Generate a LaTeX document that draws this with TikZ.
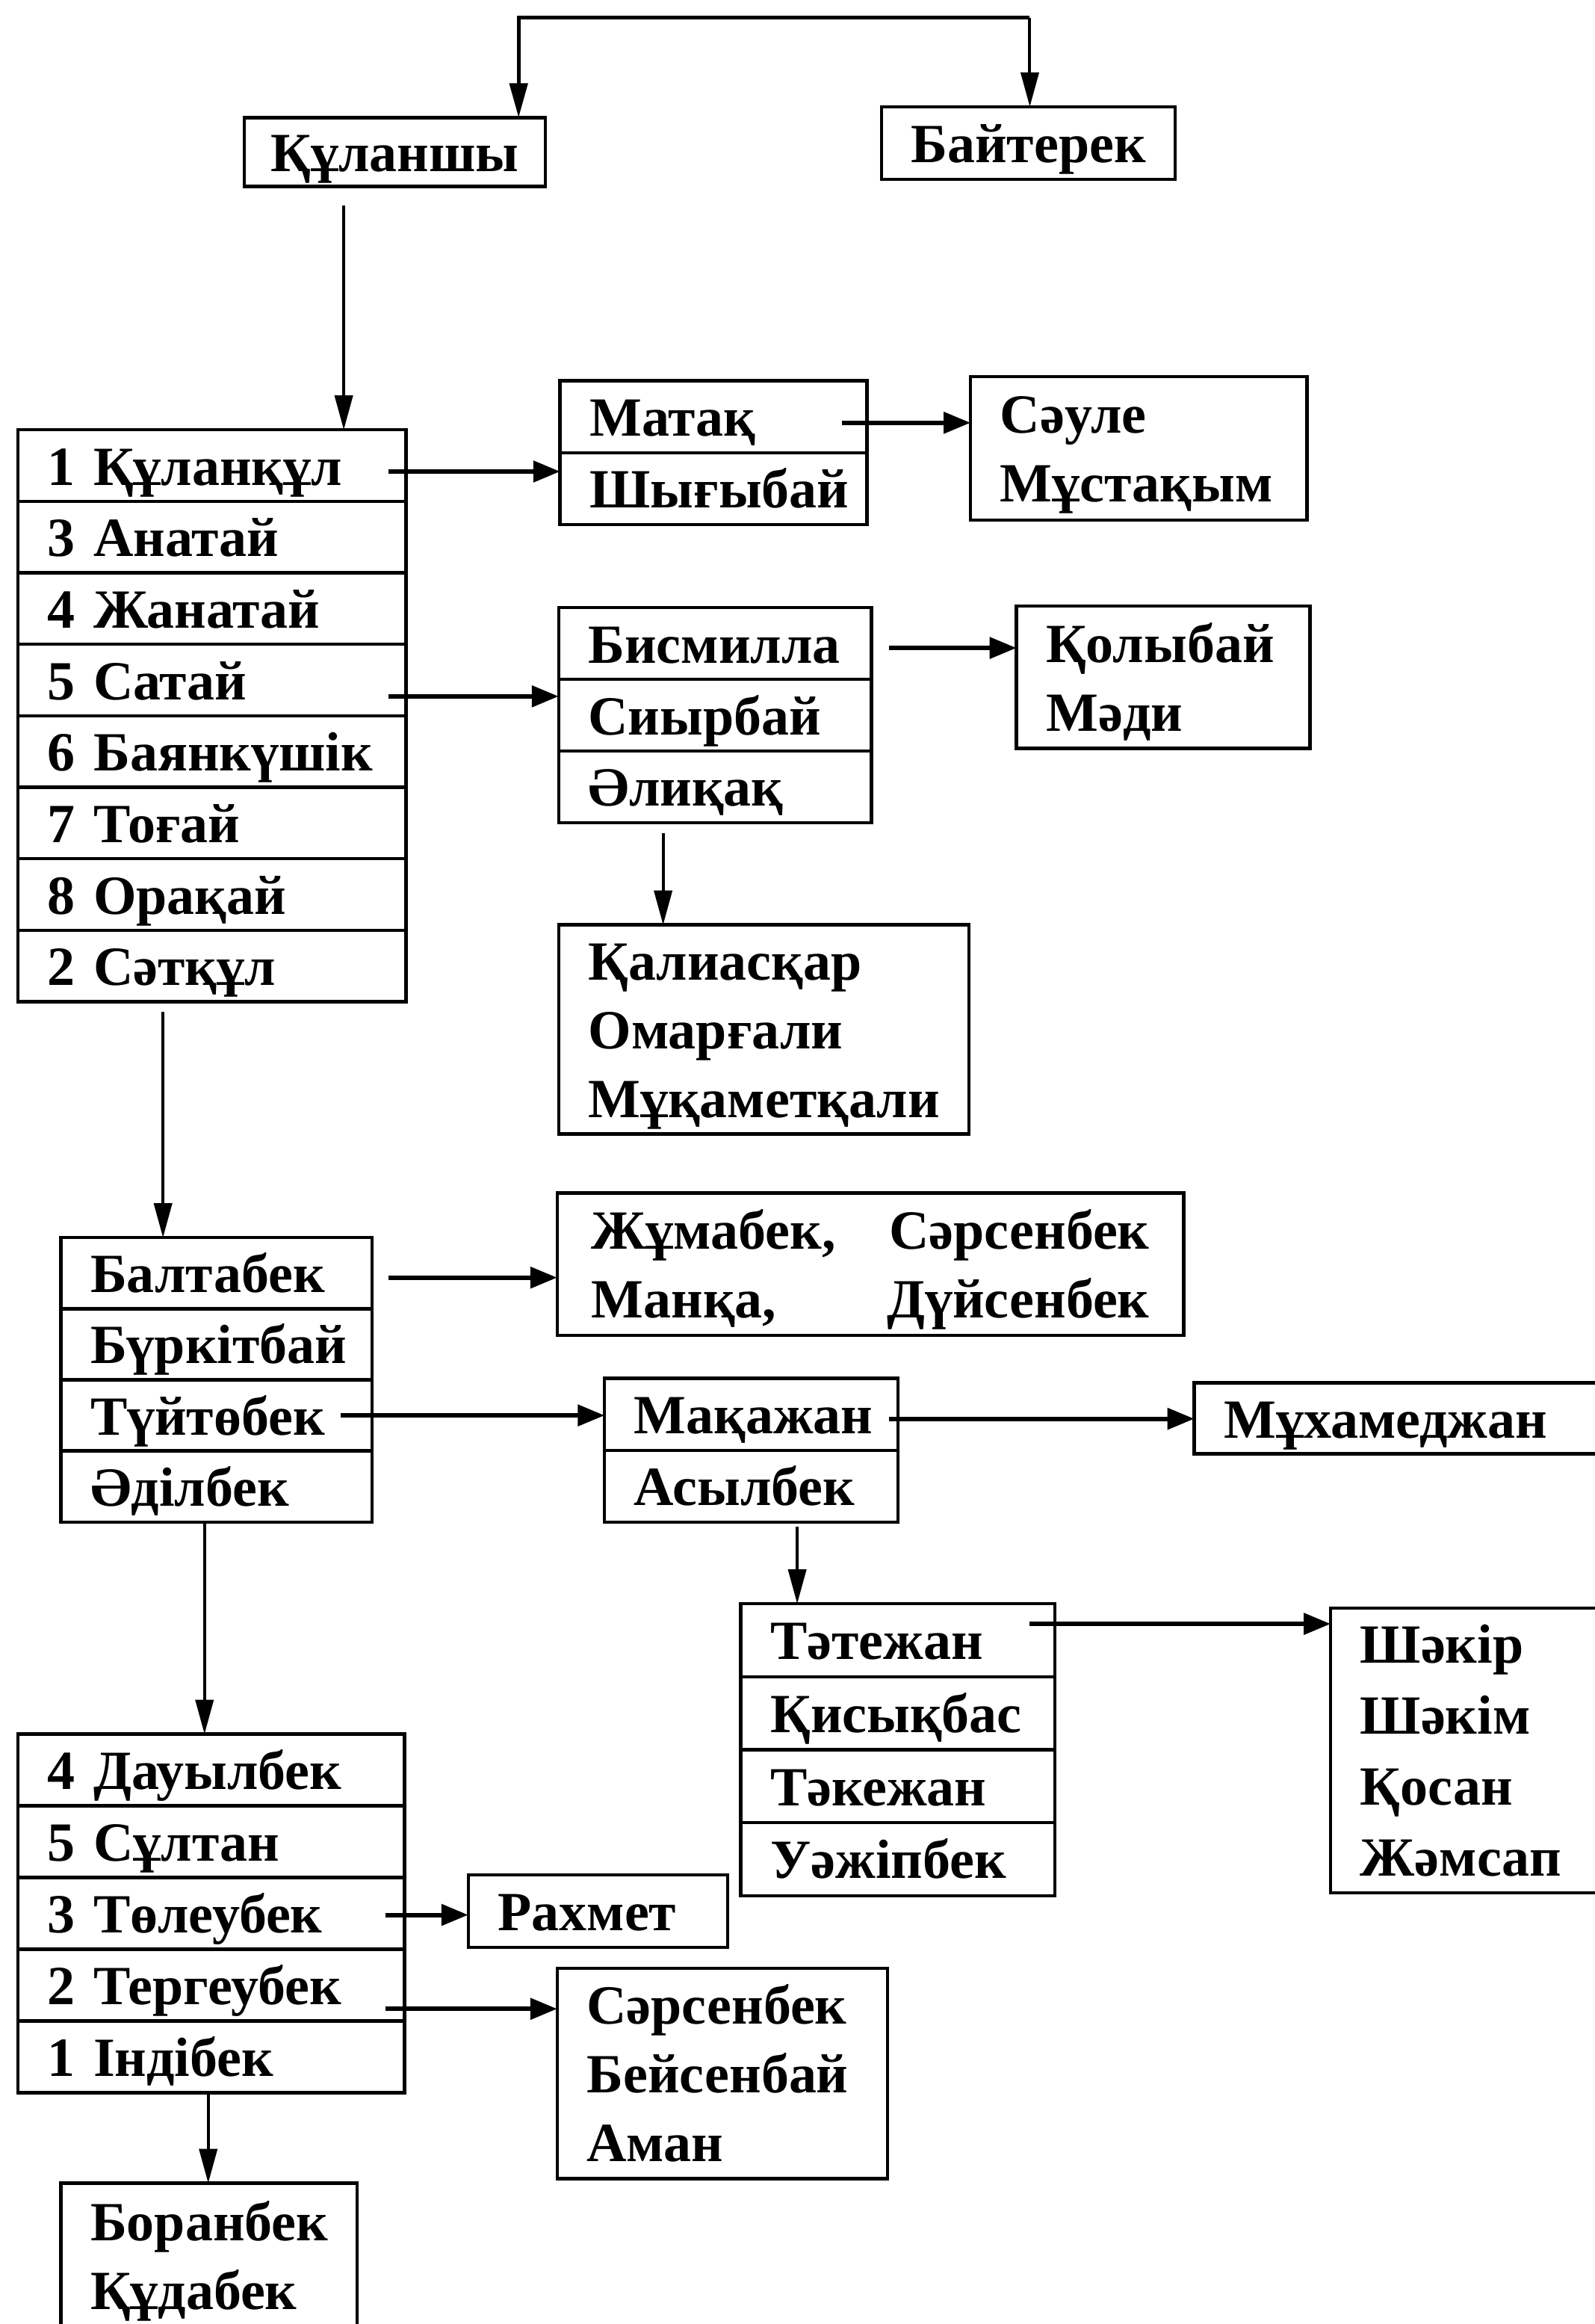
\documentclass[tikz,border=0pt]{standalone}
\usepackage{fontspec}
\setmainfont{Liberation Serif}
\usetikzlibrary{arrows.meta,calc}
\newcommand\sx{\rule[-20pt]{0pt}{92pt}}
\begin{document}
\begin{tikzpicture}[x=1.984pt,y=-1.984pt,
  every node/.style={font=\bfseries\fontsize{74}{92}\selectfont},
  cell/.style={draw, line width=4.5pt, anchor=north west, outer sep=0pt, inner xsep=39.7pt, inner ysep=0pt, align=left},
  cbox/.style={draw, line width=4.5pt, outer sep=0pt, inner sep=0pt},
  harr/.style={line width=6pt, -{Triangle[length=36pt,width=28pt]}},
  varr/.style={line width=4pt, -{Triangle[length=46pt,width=24pt]}},
  listA/.style={cell, text width=440.4pt, minimum height=95.7pt},
  listB/.style={cell, text width=337.3pt, minimum height=95.2pt},
  listC/.style={cell, text width=438.5pt, minimum height=96.0pt}
]
\useasboundingbox (0,0) rectangle (1076,1568);
\fill[white] (0,0) rectangle (1076,1568);

% top
\node[cbox, minimum width=402.8pt, minimum height=89.3pt] (kul) at (266.5,102.5) {\sx Құланшы};
\node[cbox, minimum width=392.8pt, minimum height=97.2pt] (bai) at (694,96.5) {\sx Байтерек};

% list 1
\node[listA] (r1) at (12,290) {\sx 1 Құланқұл};
\node[listA] (r2) at (r1.south west) {\sx 3 Анатай};
\node[listA] (r3) at (r2.south west) {\sx 4 Жанатай};
\node[listA] (r4) at (r3.south west) {\sx 5 Сатай};
\node[listA] (r5) at (r4.south west) {\sx 6 Баянкүшік};
\node[listA] (r6) at (r5.south west) {\sx 7 Тоғай};
\node[listA] (r7) at (r6.south west) {\sx 8 Орақай};
\node[listA] (r8) at (r7.south west) {\sx 2 Сәтқұл};

% Матақ box
\node[cell, text width=331.3pt, minimum height=96.2pt] (matak) at (378,257) {\sx Матақ};
\node[cell, text width=331.3pt, minimum height=96.2pt] (shig) at (matak.south west) {\sx Шығыбай};
\node[cell, text width=371pt, minimum height=192.4pt] (saule) at (655,254) {\sx Сәуле\\\sx Мұстақым};

% Бисмилла box
\node[cell, text width=339.3pt, minimum height=95.9pt] (bism) at (377,410) {\sx Бисмилла};
\node[cell, text width=339.3pt, minimum height=95.9pt] (siyr) at (bism.south west) {\sx Сиырбай};
\node[cell, text width=339.3pt, minimum height=95.9pt] (aliq) at (siyr.south west) {\sx Әлиқақ};
\node[cell, text width=313.5pt, minimum height=190.5pt] (qoly) at (686,409) {\sx Қолыбай\\\sx Мәди};
\node[cell, text width=470.2pt, minimum height=279.7pt] (qali) at (377,624) {\sx Қалиасқар\\\sx Омарғали\\\sx Мұқаметқали};

% list 2
\node[listB] (b1) at (41,835) {\sx Балтабек};
\node[listB] (b2) at (b1.south west) {\sx Бүркітбай};
\node[listB] (b3) at (b2.south west) {\sx Түйтөбек};
\node[listB] (b4) at (b3.south west) {\sx Әділбек};

\node[cell, inner xsep=46pt, text width=747pt, minimum height=190.5pt] (zhum) at (376,805) {\sx Жұмабек,\hfill Сәрсенбек\\\sx Манқа,\hfill Дүйсенбек};

\node[cell, text width=313.5pt, minimum height=96.2pt] (maqa) at (408,930) {\sx Мақажан};
\node[cell, text width=313.5pt, minimum height=96.2pt] (asyl) at (maqa.south west) {\sx Асылбек};
\node[cell, text width=464.3pt, minimum height=95.2pt] (mukh) at (806,933) {\sx Мұхамеджан};

\node[cell, text width=341.2pt, minimum height=97.7pt] (t1) at (500,1082) {\sx Тәтежан};
\node[cell, text width=341.2pt, minimum height=97.7pt] (t2) at (t1.south west) {\sx Қисықбас};
\node[cell, text width=341.2pt, minimum height=97.7pt] (t3) at (t2.south west) {\sx Тәкежан};
\node[cell, text width=341.2pt, minimum height=97.7pt] (t4) at (t3.south west) {\sx Уәжіпбек};
\node[cell, text width=281.7pt, minimum height=380.9pt, font=\bfseries\fontsize{74}{95}\selectfont] (shak) at (898,1085) {\sx Шәкір\\\sx Шәкім\\\sx Қосан\\\sx Жәмсап};

% list 3
\node[listC] (d1) at (12,1170) {\sx 4 Дауылбек};
\node[listC] (d2) at (d1.south west) {\sx 5 Сұлтан};
\node[listC] (d3) at (d2.south west) {\sx 3 Төлеубек};
\node[listC] (d4) at (d3.south west) {\sx 2 Тергеубек};
\node[listC] (d5) at (d4.south west) {\sx 1 Індібек};

\node[cell, text width=267.8pt, minimum height=97.2pt] (rakh) at (316,1265) {\sx Рахмет};
\node[cell, text width=363.1pt, minimum height=281.7pt] (sars) at (376,1328) {\sx Сәрсенбек\\\sx Бейсенбай\\\sx Аман};
\node[cell, text width=317.4pt, minimum height=194.4pt] (bor) at (41,1473) {\sx Боранбек\\\sx Құдабек};

% connectors
\coordinate (ta) at (350,12);
\coordinate (tb) at (695,12);
\draw[varr, line width=5pt] (tb) -- (ta) -- (ta |- kul.north);
\draw[varr] (tb) -- (tb |- bai.north);
\draw[varr] ($(kul.south)+(-34.5,13)$) coordinate (k1) -- (k1 |- r1.north);
\draw[harr] ($(r1.east)+(-12,4)$) coordinate (k2) -- (k2 -| shig.west);
\draw[harr] ($(matak.east)+(-17,4)$) coordinate (k3) -- (k3 -| saule.west);
\draw[harr] ($(r4.east)+(-12,11)$) coordinate (k4) -- (k4 -| siyr.west);
\draw[harr] ($(bism.east)+(12,3)$) coordinate (k5) -- (k5 -| qoly.west);
\draw[varr] ($(aliq.south)+(-35,7)$) coordinate (k6) -- (k6 |- qali.north);
\draw[varr] ($(r8.south)+(-33,7)$) coordinate (k7) -- (k7 |- b1.north);
\draw[harr] ($(b1.east)+(11,3)$) coordinate (k8) -- (k8 -| zhum.west);
\draw[harr] ($(b3.east)+(-21,0)$) coordinate (k9) -- (k9 -| maqa.west);
\draw[harr] ($(maqa.east)+(-6,3)$) coordinate (k10) -- (k10 -| mukh.west);
\draw[varr] ($(asyl.south)+(31,3)$) coordinate (k11) -- (k11 |- t1.north);
\draw[harr] ($(t1.east)+(-17,-11)$) coordinate (k12) -- (k12 -| shak.west);
\draw[varr] ($(b4.south)+(-8,0)$) coordinate (k13) -- (k13 |- d1.north);
\draw[harr] ($(d3.east)+(-13,1)$) coordinate (k14) -- (k14 -| rakh.west);
\draw[harr] ($(d4.east)+(-13,16)$) coordinate (k15) -- (k15 -| sars.west);
\draw[varr] ($(d5.south)+(-2,0)$) coordinate (k16) -- (k16 |- bor.north);
\end{tikzpicture}
\end{document}
